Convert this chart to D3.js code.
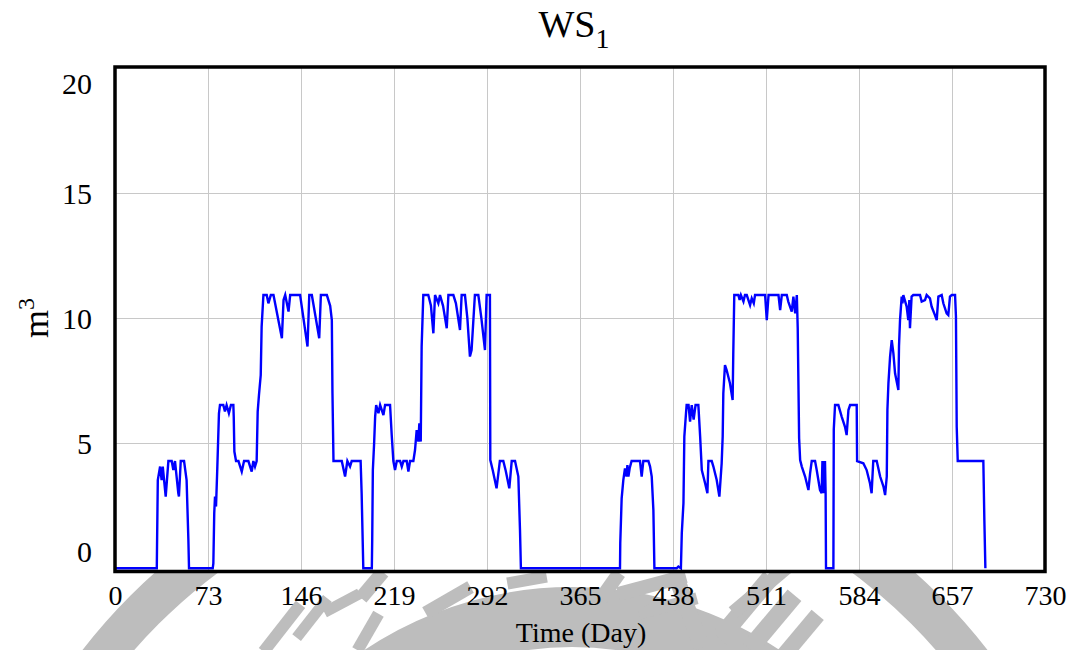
<!DOCTYPE html>
<html>
<head>
<meta charset="utf-8">
<script src="https://cdn.jsdelivr.net/npm/d3@7"></script>
<style>
  body { margin: 0; background: #fff; }
  svg { display: block; }
  text { font-family: "Liberation Serif", "Times New Roman", serif; fill: #000; }
</style>
</head>
<body>
<svg id="chart" width="1073" height="650"></svg>
<script>
// ---- chart text ----
const titleMain = "WS";
const titleSub = "1";
const xAxisLabel = "Time (Day)";
const yAxisUnit = "m";
const yAxisUnitSup = "3";

// ---- axis ticks ----
const xTicks = [0, 73, 146, 219, 292, 365, 438, 511, 584, 657, 730];
const yTicks = [0, 5, 10, 15, 20];

// ---- WS1 storage volume (m3) over time: [day, value] ----
const ws1Series = [
  [0,0],[32.8,0],[33.0,0.93],[33.6,3.53],[35.4,4.07],[36.6,3.53],[37.5,4.07],[39.8,2.87],
  [41.9,4.29],[44.5,4.29],[45.8,3.93],[47.1,4.29],[49.7,3.0],[50.2,2.87],[51.6,4.29],
  [54.2,4.29],[56.2,3.53],[57.6,1.13],[58.1,0],
  [76.7,0],[77.2,0.2],[77.9,2.2],[78.5,2.87],[79.3,2.47],[80.3,4.0],[81.6,6.2],[82.4,6.53],
  [85.0,6.53],[86.3,6.27],[87.6,6.53],[89.4,6.2],[91.0,6.53],[92.9,6.53],[93.2,6.07],
  [93.7,4.67],[95.0,4.29],[96.9,4.29],[99.5,3.87],[101.3,4.29],[104.7,4.29],[107.3,3.87],
  [108.6,4.29],[109.9,4.07],[111.2,4.29],[112.0,6.27],[113.0,6.93],[114.4,7.73],[115.1,9.66],
  [116.5,10.93],[119.1,10.93],[120.4,10.6],[122.3,10.93],[124.4,10.93],[131.0,9.2],
  [132.3,10.73],[133.6,10.93],[136.2,10.27],[137.5,10.93],[145.3,10.93],[151.1,8.87],
  [152.5,10.93],[154.5,10.93],[160.3,9.2],[161.6,10.93],[166.3,10.93],[168.9,10.5],
  [170.2,9.93],[170.7,7.0],[171.5,4.29],[178.0,4.29],[180.6,3.67],[182.4,4.29],[184.5,4.07],
  [185.8,4.29],[192.8,4.29],[193.6,3.0],[194.9,0],
  [201.6,0],[201.9,1.13],[202.4,3.93],[203.4,5.0],[204.2,6.07],[205.0,6.53],[206.8,6.2],
  [208.1,6.53],[210.7,6.13],[212.0,6.53],[215.9,6.53],[217.2,5.33],[218.5,4.29],[219.8,3.93],
  [221.2,4.29],[223.8,4.29],[225.1,4.07],[226.4,4.29],[229.0,4.29],[230.3,3.87],[231.6,4.29],
  [234.2,4.29],[235.5,4.73],[236.8,5.53],[238.1,5.07],[238.9,5.8],[240.0,5.07],[240.7,8.87],
  [242.0,10.93],[245.9,10.93],[248.0,10.5],[249.9,9.4],[251.2,10.93],[253.8,10.6],
  [255.1,10.93],[257.5,10.5],[260.4,9.6],[261.7,10.93],[265.6,10.93],[267.6,10.6],
  [270.8,9.53],[272.1,10.93],[274.7,10.93],[276.6,10.0],[278.6,8.47],[279.9,8.73],
  [282.5,10.93],[285.2,10.93],[287.6,10.0],[290.4,8.73],[291.7,10.93],[294.3,10.93],
  [294.6,4.33],[296.6,3.9],[299.5,3.2],[302.1,4.29],[304.8,4.29],[306.7,3.9],[309.5,3.2],
  [311.4,4.29],[314.0,4.29],[316.6,3.67],[317.9,1.53],[318.6,0],
  [396.4,0],[396.6,1.0],[397.7,2.8],[399.0,3.53],[400.3,4.0],[401.5,3.67],[402.2,4.13],
  [403.0,3.67],[404.0,4.0],[405.5,4.29],[412.1,4.29],[413.4,3.67],[414.7,4.29],[418.7,4.29],
  [420.0,4.07],[421.3,3.67],[422.6,2.33],[423.4,0],
  [440.9,0],[442.2,0.07],[444.2,0],[444.9,1.4],[446.2,2.6],[446.9,5.27],[448.2,6.2],
  [448.7,6.53],[450.2,6.53],[451.4,5.87],[452.7,6.53],[454.2,5.95],[455.7,6.53],[457.9,6.53],
  [459.3,5.27],[460.6,3.93],[463.2,3.4],[465.0,3.0],[465.8,4.29],[468.4,4.29],[469.7,4.07],
  [472.3,3.53],[474.4,2.87],[476.2,4.2],[477.0,5.27],[477.5,7.0],[478.8,8.13],[480.1,7.93],
  [482.7,7.4],[484.8,6.73],[485.3,8.53],[486.1,10.93],
  [489.3,10.93],[490.3,10.73],[491.3,10.93],[493.3,10.67],[494.5,10.93],[495.9,10.93],
  [498.5,10.53],[499.8,10.8],[501.4,10.6],[502.4,10.93],[510.3,10.93],[511.6,9.93],
  [513.0,10.93],[520.8,10.93],[522.1,10.33],[523.4,10.93],[527.3,10.93],[528.5,10.67],
  [531.2,10.27],[532.5,10.87],[533.9,10.2],[535.2,10.93],[535.9,9.6],[537.0,5.2],[537.8,4.33],
  [539.1,4.07],[541.7,3.67],[544.3,3.13],[545.6,3.8],[546.9,4.29],[549.5,4.29],[550.8,3.93],
  [553.4,3.13],[554.7,3.0],[555.3,4.29],[555.8,3.0],[556.3,4.29],[556.8,3.0],[557.3,4.29],
  [557.8,3.0],[558.1,0],
  [563.9,0],[564.2,5.55],[565.2,6.53],[567.8,6.53],[570.4,6.07],[573.0,5.66],[574.3,5.33],
  [575.7,6.33],[577.0,6.53],[582.2,6.53],[582.5,4.29],[587.4,4.2],[590.0,3.93],[592.6,3.4],
  [593.9,3.0],[595.2,4.29],[597.9,4.29],[600.6,3.67],[603.2,3.27],[604.5,2.93],
  [605.8,3.67],[606.3,6.33],[607.1,7.4],[608.4,8.47],[609.7,9.13],[611.0,8.6],[612.3,7.8],
  [614.9,7.13],[615.4,8.87],[616.2,9.93],[617.5,10.87],[618.1,10.6],[618.8,10.93],
  [621.4,10.47],[622.7,9.93],[623.5,10.73],[624.0,9.6],[625.3,10.87],[626.6,10.93],
  [631.9,10.93],[633.2,10.67],[635.8,10.73],[637.1,10.93],[639.7,10.8],[641.0,10.47],
  [643.6,10.13],[645.0,9.93],[646.3,10.87],[648.9,10.93],[650.2,10.6],[652.8,10.2],
  [654.1,10.13],[655.4,10.87],[656.8,10.93],[659.4,10.93],[660.1,10.07],[660.7,5.66],
  [661.5,4.29],[681.6,4.29],[682.4,1.93],[683.2,0]
];

// ---- layout ----
const plot = { left: 115, right: 1045, top: 68.3, bottom: 568.3 };
const svg = d3.select("#chart");

const x = d3.scaleLinear().domain([0, 730]).range([plot.left, plot.right]);
const y = d3.scaleLinear().domain([0, 20]).range([plot.bottom, plot.top]);

// faint seal printed under the page
const seal = svg.append("g").attr("fill", "#bdbdbd").attr("stroke", "none");
seal.append("circle").attr("cx", 535).attr("cy", 1000).attr("r", 552)
  .attr("fill", "none").attr("stroke", "#bdbdbd").attr("stroke-width", 40);
seal.append("circle").attr("cx", 572).attr("cy", 960).attr("r", 343)
  .attr("fill", "none").attr("stroke", "#bdbdbd").attr("stroke-width", 60);
const strokes = [
  [282, 628, 12, 60, 38], [312, 618, 11, 50, 38], [342, 603, 40, 11, -28],
  [372, 585, 14, 34, 40], [368, 632, 12, 42, 30], [448, 600, 52, 13, -30],
  [527, 580, 40, 12, -10], [610, 586, 14, 32, 35], [652, 585, 70, 14, -15],
  [668, 606, 60, 12, -15], [690, 615, 16, 70, -20], [745, 608, 18, 80, 40],
  [772, 622, 18, 70, 40], [800, 636, 16, 55, 40], [760, 590, 70, 14, -40]
];
strokes.forEach(([cx, cy, w, h, a]) => {
  seal.append("rect").attr("x", -w / 2).attr("y", -h / 2).attr("width", w).attr("height", h)
    .attr("transform", `translate(${cx},${cy}) rotate(${a})`);
});

// plot background
svg.append("rect")
  .attr("x", plot.left).attr("y", 67)
  .attr("width", plot.right - plot.left).attr("height", 571.5 - 67)
  .attr("fill", "#fff");

// grid lines
const grid = svg.append("g").attr("stroke", "#c8c8c8").attr("stroke-width", 1);
grid.selectAll("line.vx").data(xTicks.slice(1, -1)).join("line")
  .attr("x1", d => x(d) + 0.5).attr("x2", d => x(d) + 0.5)
  .attr("y1", 67).attr("y2", 571);
grid.selectAll("line.hy").data(yTicks.slice(1, -1)).join("line")
  .attr("x1", plot.left).attr("x2", plot.right)
  .attr("y1", d => Math.round(y(d)) + 0.5).attr("y2", d => Math.round(y(d)) + 0.5);

// series line
const line = d3.line().x(d => x(d[0])).y(d => y(d[1]));
svg.append("path")
  .datum(ws1Series)
  .attr("d", line)
  .attr("fill", "none")
  .attr("stroke", "#0000ff")
  .attr("stroke-width", 2.4)
  .attr("stroke-linejoin", "miter");

// frame
svg.append("rect")
  .attr("x", plot.left).attr("y", 67)
  .attr("width", plot.right - plot.left).attr("height", 571.5 - 67)
  .attr("fill", "none").attr("stroke", "#000").attr("stroke-width", 3.5);

// x axis labels
const xAxis = d3.axisBottom(x).tickValues(xTicks).tickSize(0).tickPadding(0);
const gx = svg.append("g").attr("transform", "translate(0,605)").call(xAxis);
gx.select(".domain").remove();
gx.selectAll("text")
  .attr("y", 0).attr("dy", 0)
  .style("font-family", '"Liberation Serif", serif')
  .style("font-size", "28px").attr("fill", "#000");

// y axis labels (end labels kept inside the frame height)
const yAxis = d3.axisLeft(y).tickValues(yTicks).tickSize(0).tickPadding(0);
const gy = svg.append("g").attr("transform", "translate(92,0)").call(yAxis);
gy.select(".domain").remove();
gy.selectAll(".tick").attr("transform", d => {
  const cy = Math.min(Math.max(y(d), plot.top + 15), plot.bottom - 17);
  return `translate(0,${cy})`;
});
gy.selectAll("text")
  .attr("x", 0).attr("dy", "0.34em")
  .style("font-family", '"Liberation Serif", serif')
  .style("font-size", "30px").attr("fill", "#000");

// axis title
svg.append("text")
  .attr("x", 581).attr("y", 642)
  .attr("text-anchor", "middle")
  .style("font-size", "28px")
  .text(xAxisLabel);

// y unit label, rotated
const yl = svg.append("text")
  .attr("transform", "translate(48,318) rotate(-90)")
  .attr("text-anchor", "middle")
  .style("font-size", "36px");
yl.append("tspan").text(yAxisUnit);
yl.append("tspan").attr("dy", -14).style("font-size", "24px").text(yAxisUnitSup);

// chart title with subscript
const t = svg.append("text")
  .attr("x", 574).attr("y", 37)
  .attr("text-anchor", "middle")
  .style("font-size", "38px");
t.append("tspan").text(titleMain);
t.append("tspan").attr("dy", 11).style("font-size", "28px").text(titleSub);
</script>
</body>
</html>
